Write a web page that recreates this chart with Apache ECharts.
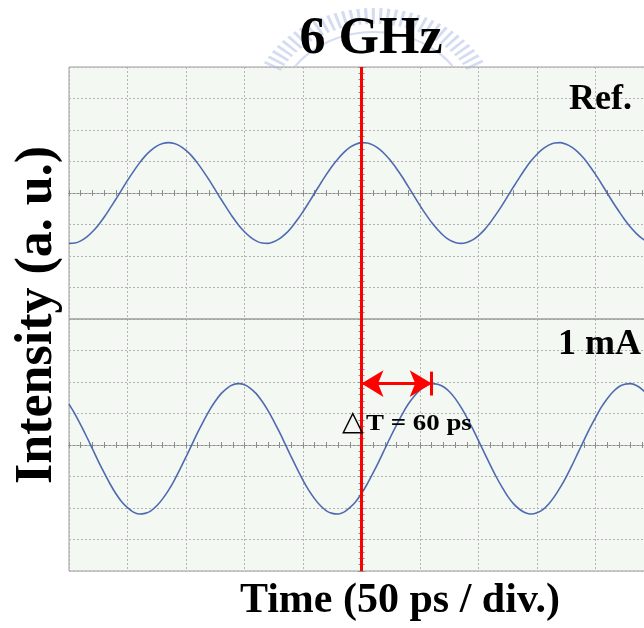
<!DOCTYPE html>
<html>
<head>
<meta charset="utf-8">
<title>6 GHz</title>
<script src="https://cdn.jsdelivr.net/npm/echarts@6/dist/echarts.min.js"></script>
<style>
  html, body { margin: 0; padding: 0; background: #ffffff; }
  #chart { width: 644px; height: 628px; }
</style>
</head>
<body>
<div id="chart"></div>
<script>
// Sampling instants (ps); the screen spans 10 divisions of 50 ps
const timePs = [
  0, 5, 10, 15, 20, 25, 30, 35, 40, 45, 50, 55, 60, 65, 70, 75, 80, 85, 90, 95,
  100, 105, 110, 115, 120, 125, 130, 135, 140, 145, 150, 155, 160, 165, 170, 175, 180, 185, 190, 195,
  200, 205, 210, 215, 220, 225, 230, 235, 240, 245, 250, 255, 260, 265, 270, 275, 280, 285, 290, 295,
  300, 305, 310, 315, 320, 325, 330, 335, 340, 345, 350, 355, 360, 365, 370, 375, 380, 385, 390, 395,
  400, 405, 410, 415, 420, 425, 430, 435, 440, 445, 450, 455, 460, 465, 470, 475, 480, 485, 490, 495,
  500
];

// Reference trace (vertical divisions; upper screen centred at 12)
const refTrace = [
  10.40, 10.41, 10.48, 10.60, 10.77, 10.98, 11.23, 11.51, 11.80, 12.10,
  12.40, 12.68, 12.94, 13.17, 13.35, 13.49, 13.57, 13.60, 13.57, 13.49,
  13.35, 13.17, 12.94, 12.68, 12.40, 12.10, 11.80, 11.51, 11.23, 10.98,
  10.77, 10.60, 10.48, 10.41, 10.40, 10.45, 10.55, 10.70, 10.90, 11.14,
  11.41, 11.70, 12.00, 12.30, 12.59, 12.86, 13.09, 13.29, 13.45, 13.55,
  13.60, 13.59, 13.52, 13.40, 13.23, 13.02, 12.77, 12.50, 12.20, 11.90,
  11.60, 11.32, 11.06, 10.84, 10.65, 10.51, 10.43, 10.40, 10.43, 10.51,
  10.65, 10.83, 11.06, 11.32, 11.60, 11.90, 12.20, 12.49, 12.77, 13.02,
  13.23, 13.40, 13.52, 13.59, 13.60, 13.55, 13.45, 13.30, 13.10, 12.86,
  12.59, 12.30, 12.00, 11.70, 11.42, 11.15, 10.91, 10.71, 10.55, 10.45,
  10.40
];

// 1 mA trace (vertical divisions; lower screen centred at 4)
const trace1mA = [
  5.30, 4.99, 4.64, 4.27, 3.88, 3.49, 3.12, 2.77, 2.46, 2.20,
  2.01, 1.87, 1.81, 1.83, 1.91, 2.07, 2.29, 2.56, 2.88, 3.24,
  3.62, 4.01, 4.40, 4.76, 5.10, 5.39, 5.63, 5.80, 5.91, 5.95,
  5.91, 5.80, 5.63, 5.39, 5.10, 4.76, 4.40, 4.01, 3.62, 3.24,
  2.88, 2.56, 2.29, 2.07, 1.91, 1.83, 1.81, 1.87, 2.01, 2.20,
  2.46, 2.77, 3.12, 3.49, 3.88, 4.27, 4.64, 4.99, 5.30, 5.55,
  5.75, 5.88, 5.95, 5.93, 5.85, 5.70, 5.48, 5.20, 4.88, 4.52,
  4.14, 3.75, 3.37, 3.00, 2.67, 2.37, 2.13, 1.96, 1.85, 1.81,
  1.85, 1.95, 2.13, 2.37, 2.66, 2.99, 3.36, 3.75, 4.14, 4.52,
  4.87, 5.20, 5.47, 5.69, 5.85, 5.93, 5.95, 5.89, 5.76, 5.56,
  5.30
];

const traceNames = ['Ref.', '1 mA'];
const cursorPs = 250;   // red time cursor
const deltaTPs = 60;    // measured delay between the two traces
const titleText = '6 GHz';
const xTitle = 'Time (50 ps / div.)';
const yTitle = 'Intensity (a. u.)';

const serif = '"Liberation Serif", "Times New Roman", serif';
const traceColor = '#3c5bab';
const tickColor = '#8c8c8c';

const pairs = (ys) => timePs.map((t, i) => [t, ys[i]]);
const arrowLevel = Math.max(...trace1mA);

// centre-line axis carrying the small graduation ticks
function centreX(onZeroIdx, inside) {
  return {
    type: 'value', gridIndex: 0, position: 'bottom', min: 0, max: 500, interval: 50,
    axisLine: { show: true, onZero: true, onZeroAxisIndex: onZeroIdx,
      lineStyle: { color: tickColor, width: 1, type: [2, 2] } },
    axisTick: { show: true, inside: inside, length: 3, lineStyle: { color: tickColor } },
    minorTick: { show: true, splitNumber: 5, length: 3, lineStyle: { color: tickColor } },
    axisLabel: { show: false }, splitLine: { show: false }
  };
}
function centreY(onZeroIdx, inside) {
  return {
    type: 'value', gridIndex: 0, position: 'left', min: 0, max: 16, interval: 1,
    axisLine: { show: false, onZero: true, onZeroAxisIndex: onZeroIdx },
    axisTick: { show: true, inside: inside, length: 3, lineStyle: { color: tickColor } },
    minorTick: { show: true, splitNumber: 5, length: 3, lineStyle: { color: tickColor } },
    axisLabel: { show: false }, splitLine: { show: false }
  };
}
const hiddenAxis = (min, max) => ({ type: 'value', gridIndex: 0, show: false, min: min, max: max });

const chart = echarts.init(document.getElementById('chart'));

chart.setOption({
  animation: false,
  backgroundColor: '#ffffff',
  grid: {
    left: 69, top: 67, width: 585, height: 504,
    outerBoundsMode: 'none', containLabel: false,
    show: true, backgroundColor: '#f4f8f2', borderColor: '#9c9c9c', borderWidth: 1
  },
  xAxis: [
    {
      type: 'value', gridIndex: 0, position: 'bottom', min: 0, max: 500, interval: 50,
      axisLine: { show: false }, axisTick: { show: false }, axisLabel: { show: false },
      splitLine: { show: true, lineStyle: { color: '#b4b4b4', width: 1, type: [2, 2] } }
    },
    centreX(1, false), centreX(1, true),
    centreX(2, false), centreX(2, true),
    hiddenAxis(-250, 250)
  ],
  yAxis: [
    {
      type: 'value', gridIndex: 0, min: 0, max: 16, interval: 1,
      axisLine: { show: false }, axisTick: { show: false }, axisLabel: { show: false },
      splitLine: { show: true, lineStyle: { color: '#b4b4b4', width: 1, type: [2, 2] } }
    },
    hiddenAxis(-12, 4),
    hiddenAxis(-4, 12),
    centreY(5, false), centreY(5, true)
  ],
  series: [
    {
      name: 'divider', type: 'line', data: [], xAxisIndex: 0, yAxisIndex: 0,
      markLine: {
        z: 1, silent: true, symbol: ['none', 'none'], label: { show: false },
        lineStyle: { color: '#9c9c9c', width: 1.5, type: 'solid' },
        data: [{ yAxis: 8 }]
      }
    },
    {
      name: traceNames[0], type: 'line', data: pairs(refTrace), xAxisIndex: 0, yAxisIndex: 0,
      smooth: 0.3, showSymbol: false, z: 3,
      lineStyle: { color: traceColor, width: 1.6, opacity: 0.9 }
    },
    {
      name: traceNames[1], type: 'line', data: pairs(trace1mA), xAxisIndex: 0, yAxisIndex: 0,
      smooth: 0.3, showSymbol: false, z: 3,
      lineStyle: { color: traceColor, width: 1.6, opacity: 0.9 }
    },
    {
      name: 'cursor', type: 'line', data: [], xAxisIndex: 0, yAxisIndex: 0,
      markLine: {
        z: 10, silent: true, animation: false, label: { show: false },
        symbol: ['none', 'none'],
        lineStyle: { color: '#ff0000', width: 3, type: 'solid' },
        data: [
          { xAxis: cursorPs },
          [
            { coord: [cursorPs, arrowLevel], symbol: 'arrow', symbolSize: [20, 22] },
            { coord: [cursorPs + deltaTPs, arrowLevel], symbol: 'arrow', symbolSize: [20, 22] }
          ],
          [
            { coord: [cursorPs + deltaTPs, arrowLevel - 0.38], symbol: 'none' },
            { coord: [cursorPs + deltaTPs, arrowLevel + 0.38], symbol: 'none' }
          ]
        ]
      }
    }
  ],
  graphic: [
    {
      type: 'group', x: 374, y: 112, scaleX: 1.2, z: 0, silent: true,
      children: [
        { type: 'arc', shape: { cx: 0, cy: 0, r: 96, startAngle: 3.63, endAngle: 5.79 },
          style: { stroke: '#aab9e6', lineWidth: 16, lineDash: [2.5, 3.5], fill: null, opacity: 0.5 } },
        { type: 'arc', shape: { cx: 0, cy: 0, r: 80, startAngle: 3.75, endAngle: 5.67 },
          style: { stroke: '#c5cfee', lineWidth: 2, fill: null, opacity: 0.7 } }
      ]
    },
    { type: 'text', x: 371, y: 40, z: 20,
      style: { text: titleText, font: 'bold 52px ' + serif, fill: '#000', align: 'center', verticalAlign: 'middle' } },
    { type: 'text', x: 632, y: 100, z: 20,
      style: { text: traceNames[0], font: 'bold 36px ' + serif, fill: '#000', align: 'right', verticalAlign: 'middle' } },
    { type: 'text', x: 558, y: 345, z: 20,
      style: { text: traceNames[1], font: 'bold 36px ' + serif, fill: '#000', align: 'left', verticalAlign: 'middle' } },
    { type: 'text', x: 342, y: 423, z: 20,
      style: { text: '\u25B3', font: '28px "DejaVu Sans", sans-serif', fill: '#000', align: 'left', verticalAlign: 'middle' } },
    { type: 'text', x: 366, y: 424, z: 20, scaleX: 1.17,
      style: { text: 'T = ' + deltaTPs + ' ps', font: 'bold 23px ' + serif, fill: '#000', align: 'left', verticalAlign: 'middle' } },
    { type: 'text', x: 400, y: 601, z: 20,
      style: { text: xTitle, font: 'bold 42px ' + serif, fill: '#000', align: 'center', verticalAlign: 'middle' } },
    { type: 'text', x: 38, y: 315, rotation: Math.PI / 2, z: 20,
      style: { text: yTitle, font: 'bold 52px ' + serif, fill: '#000', align: 'center', verticalAlign: 'middle' } }
  ]
});
</script>
</body>
</html>
